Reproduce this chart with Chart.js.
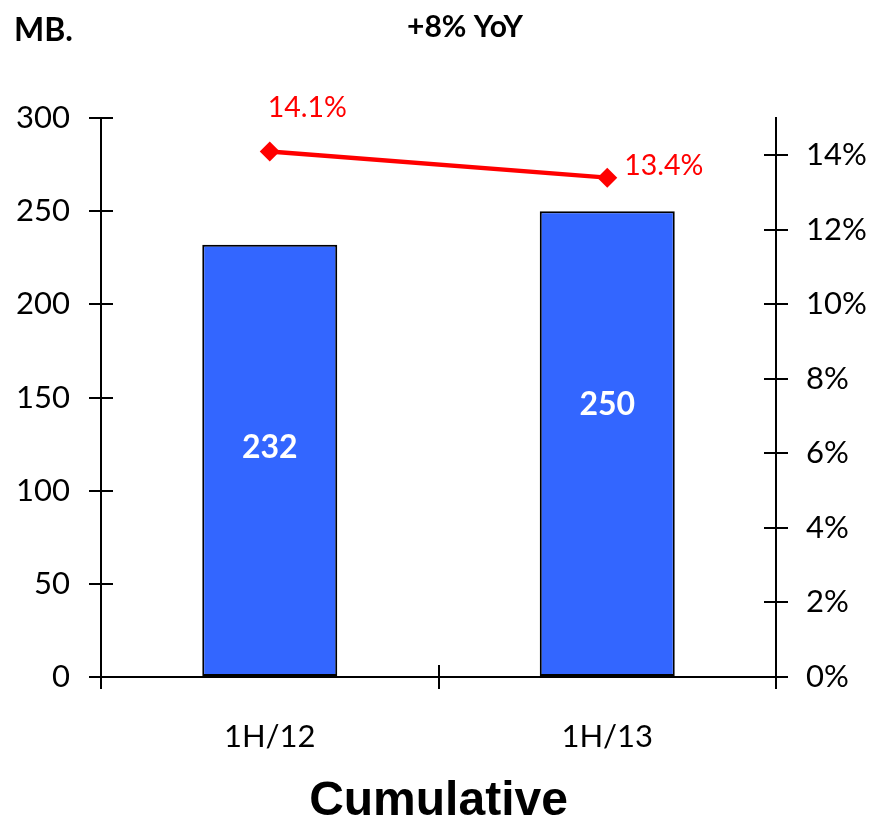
<!DOCTYPE html>
<html>
<head>
<meta charset="utf-8">
<script src="https://cdn.jsdelivr.net/npm/chart.js@4"></script>
<style>
  html, body { margin: 0; padding: 0; background: #ffffff; }
  #wrap { width: 872px; height: 822px; }
</style>
</head>
<body>
<div id="wrap"><canvas id="c" width="872" height="822"></canvas></div>
<script>
// Half-year periods
const categories = ['1H/12', '1H/13'];
// Cumulative amount (MB.)
const amounts = [232, 250];
// Margin (%) on the right axis
const margins = [14.1, 13.4];
const marginLabels = ['14.1%', '13.4%'];
const leftTicks = [0, 50, 100, 150, 200, 250, 300];
const rightTicks = [0, 2, 4, 6, 8, 10, 12, 14];

const BAR_BLUE = '#3366FF';
const RED = '#FF0000';
const AXIS = '#000000';
const TICK_FONT = { family: 'Lato, "Open Sans", sans-serif', size: 31 };

// Short tick marks on the inner side of each axis, so ticks cross the axis line
const crossTicks = {
  id: 'crossTicks',
  afterDraw(chart) {
    const ctx = chart.ctx;
    const len = 12;
    const { y, y1, x } = chart.scales;
    ctx.save();
    ctx.strokeStyle = AXIS;
    ctx.lineWidth = 2;
    ctx.beginPath();
    y.ticks.forEach(t => {
      const py = Math.round(y.getPixelForValue(t.value));
      ctx.moveTo(y.right, py); ctx.lineTo(y.right + len, py);
    });
    y1.ticks.forEach(t => {
      const py = Math.round(y1.getPixelForValue(t.value));
      ctx.moveTo(y1.left - len, py); ctx.lineTo(y1.left, py);
    });
    const n = categories.length;
    for (let i = 0; i <= n; i++) {
      let px;
      if (i === 0) px = chart.chartArea.left;
      else if (i === n) px = chart.chartArea.right;
      else px = (x.getPixelForTick(i - 1) + x.getPixelForTick(i)) / 2;
      px = Math.round(px);
      ctx.moveTo(px, x.top - len); ctx.lineTo(px, x.top);
    }
    ctx.stroke();
    ctx.restore();
  }
};

// Value labels on bars and line points, plus header captions
const labels = {
  id: 'labels',
  afterDatasetsDraw(chart, args, opts) {
    const ctx = chart.ctx;
    ctx.save();
    // bar values
    const barMeta = chart.getDatasetMeta(1);
    ctx.fillStyle = '#ffffff';
    ctx.font = 'bold 32px Lato, "Open Sans", sans-serif';
    ctx.textAlign = 'center';
    ctx.textBaseline = 'middle';
    barMeta.data.forEach((bar, i) => {
      const mid = (bar.y + bar.base) / 2;
      ctx.fillText(String(amounts[i]), bar.x, mid + opts.barOffsets[i]);
    });
    // line labels
    const lineMeta = chart.getDatasetMeta(0);
    ctx.fillStyle = RED;
    ctx.font = '28.5px Lato, "Open Sans", sans-serif';
    ctx.textAlign = 'left';
    lineMeta.data.forEach((pt, i) => {
      const o = opts.lineOffsets[i];
      ctx.fillText(marginLabels[i], pt.x + o[0], pt.y + o[1]);
    });
    // header captions
    ctx.fillStyle = '#000000';
    ctx.textBaseline = 'alphabetic';
    ctx.font = 'bold 32px Lato, "Open Sans", sans-serif';
    ctx.textAlign = 'left';
    ctx.fillText('MB.', 14, 41);
    ctx.font = 'bold 30px Lato, "Open Sans", sans-serif';
    ctx.textAlign = 'center';
    ctx.fillText('+8% YoY', 465, 37);
    ctx.restore();
  }
};

new Chart(document.getElementById('c'), {
  type: 'bar',
  data: {
    labels: categories,
    datasets: [
      {
        type: 'line',
        label: 'Margin',
        data: margins,
        yAxisID: 'y1',
        borderColor: RED,
        backgroundColor: RED,
        borderWidth: 4.5,
        pointStyle: 'rectRot',
        pointRadius: 10,
        pointHoverRadius: 10,
        pointBackgroundColor: RED,
        pointBorderColor: RED,
        pointBorderWidth: 0,
        tension: 0,
        order: 0
      },
      {
        type: 'bar',
        label: 'Amount',
        data: amounts,
        yAxisID: 'y',
        backgroundColor: BAR_BLUE,
        borderColor: '#000000',
        borderWidth: 2,
        borderSkipped: false,
        categoryPercentage: 1.0,
        barPercentage: 0.4,
        order: 1
      }
    ]
  },
  options: {
    responsive: false,
    animation: false,
    events: [],
    layout: { padding: { top: 118, left: 0, right: 0, bottom: 0 } },
    plugins: {
      legend: { display: false },
      tooltip: { enabled: false },
      title: { display: false },
      labels: {
        barOffsets: [-13, -39],
        lineOffsets: [[-2, -44], [17, -12]]
      }
    },
    scales: {
      x: {
        type: 'category',
        offset: true,
        grid: {
          offset: true,
          drawOnChartArea: false,
          drawTicks: true,
          tickLength: 12,
          color: AXIS,
          lineWidth: 2
        },
        border: { display: true, color: AXIS, width: 2 },
        ticks: { color: '#000', font: TICK_FONT, padding: 29, maxRotation: 0 },
        title: {
          display: true,
          text: 'Cumulative',
          color: '#000',
          font: { family: 'Arial, "Liberation Sans", sans-serif', size: 48, weight: 'bold', lineHeight: 1 },
          padding: { top: 0, bottom: -4 }
        },
        afterFit(s) { s.height = 145; }
      },
      y: {
        position: 'left',
        min: 0,
        max: 300,
        grid: {
          drawOnChartArea: false,
          drawTicks: true,
          tickLength: 12,
          color: AXIS,
          lineWidth: 2
        },
        border: { display: true, color: AXIS, width: 2 },
        ticks: { color: '#000', font: TICK_FONT, padding: 19, stepSize: 50 },
        afterBuildTicks(s) { s.ticks = leftTicks.map(v => ({ value: v })); },
        afterFit(s) { s.width = 101; }
      },
      y1: {
        position: 'right',
        min: 0,
        max: 15,
        grid: {
          drawOnChartArea: false,
          drawTicks: true,
          tickLength: 12,
          color: AXIS,
          lineWidth: 2
        },
        border: { display: true, color: AXIS, width: 2 },
        ticks: {
          color: '#000',
          font: TICK_FONT,
          padding: 18,
          stepSize: 2,
          callback: v => v + '%'
        },
        afterBuildTicks(s) { s.ticks = rightTicks.map(v => ({ value: v })); },
        afterFit(s) { s.width = 96; }
      }
    }
  },
  plugins: [crossTicks, labels]
});
</script>
</body>
</html>
